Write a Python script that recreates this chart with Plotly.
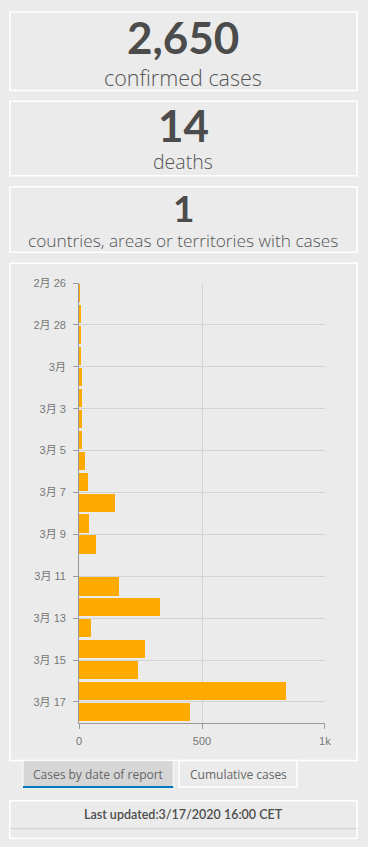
import plotly.graph_objects as go

# ---------------- data ----------------
report_dates = [
    "2020-02-26", "2020-02-27", "2020-02-28", "2020-02-29", "2020-03-01",
    "2020-03-02", "2020-03-03", "2020-03-04", "2020-03-05", "2020-03-06",
    "2020-03-07", "2020-03-08", "2020-03-09", "2020-03-10", "2020-03-11",
    "2020-03-12", "2020-03-13", "2020-03-14", "2020-03-15", "2020-03-16",
    "2020-03-17",
]
new_cases = [1, 8, 8, 7, 13, 13, 13, 13, 25, 37, 147, 40, 71, 0, 162,
             329, 48, 270, 238, 844, 452]

y_tick_vals = ["2020-02-26", "2020-02-28", "2020-03-01", "2020-03-03",
               "2020-03-05", "2020-03-07", "2020-03-09", "2020-03-11",
               "2020-03-13", "2020-03-15", "2020-03-17"]
y_tick_text = ["2月 26", "2月 28", "3月", "3月 3", "3月 5", "3月 7",
               "3月 9", "3月 11", "3月 13", "3月 15", "3月 17"]
x_tick_vals = [0, 500, 1000]
x_tick_text = ["0", "500", "1k"]

kpi_values = ["2,650", "14", "1"]
kpi_labels = ["confirmed cases", "deaths",
              "countries, areas or territories with cases"]
tab_labels = ["Cases by date of report", "Cumulative cases"]
updated_text = "Last updated:3/17/2020 16:00 CET"

# ---------------- layout helpers ----------------
W, H = 368, 847
DAY = 86400000


def px(x):
    return x / W


def py(y):
    return 1 - y / H


BG = "#ebebeb"
TXT = "#4c4c4c"
NUM_FONT = "Lato, 'Noto Sans', sans-serif"
LBL_FONT = "'Open Sans', 'Noto Sans', sans-serif"
AX_FONT = "'Liberation Sans', Arial, 'Noto Sans CJK SC', sans-serif"

fig = go.Figure()
fig.add_trace(go.Bar(
    x=new_cases, y=report_dates, orientation="h",
    marker=dict(color="#ffaa00", line=dict(width=0)),
    offset=0.05 * DAY, width=0.87 * DAY,
    hoverinfo="x+y",
))

shapes = []


def panel(x0, y0, x1, y1, fill=None, color="white", w=1.5):
    shapes.append(dict(
        type="rect", xref="paper", yref="paper",
        x0=px(x0), x1=px(x1), y0=py(y1), y1=py(y0),
        line=dict(color=color, width=w),
        fillcolor=fill if fill else "rgba(0,0,0,0)",
        layer="below",
    ))


panel(7, 6, 363, 85)
panel(7, 96, 363, 171)
panel(7, 182, 363, 248)
panel(7, 259, 363, 760)
panel(20.5, 760, 174.5, 787, fill="#d6d6d6", w=1)
panel(180.5, 760, 301.5, 786.5, w=1.5)
panel(7, 800.5, 363, 838.5)
# blue underline of active tab
shapes.append(dict(type="line", xref="paper", yref="paper",
                   x0=px(20.5), x1=px(174.5), y0=py(786.5), y1=py(786.5),
                   line=dict(color="#0079c1", width=2)))
# divider in the footer panel
shapes.append(dict(type="line", xref="paper", yref="paper",
                   x0=px(7.5), x1=px(362.5), y0=py(828.5), y1=py(828.5),
                   line=dict(color="#cfcfcf", width=1)))

annotations = []


def text(t, x, y, size, color=TXT, weight=400, family=LBL_FONT):
    annotations.append(dict(
        text=t, x=px(x), y=py(y), xref="paper", yref="paper",
        xanchor="center", yanchor="middle", showarrow=False,
        font=dict(size=size, color=color, family=family, weight=weight),
    ))


text(kpi_values[0], 185, 31, 44, weight=700, family=NUM_FONT)
text(kpi_labels[0], 185, 72, 21.5, color="#555555", weight=300)
text(kpi_values[1], 185, 120, 44, weight=700, family=NUM_FONT)
text(kpi_labels[1], 185, 157, 19.5, color="#555555", weight=300)
text(kpi_values[2], 185, 203, 37, weight=700, family=NUM_FONT)
text(kpi_labels[2], 185, 236, 17.3, color="#555555", weight=300)
text(tab_labels[0], 97.5, 774, 12, color="#666666")
text(tab_labels[1], 241, 774, 12, color="#666666")
text(updated_text, 185, 814.5, 12.5, color=TXT, weight=600,
     family=NUM_FONT)

fig.update_layout(
    width=W, height=H,
    margin=dict(l=0, r=0, t=0, b=0),
    paper_bgcolor=BG, plot_bgcolor=BG,
    showlegend=False,
    shapes=shapes, annotations=annotations,
    bargap=0,
    xaxis=dict(
        domain=[px(78), px(330)],
        range=[0, 1000],
        tickvals=x_tick_vals, ticktext=x_tick_text,
        showgrid=True, gridcolor="#d3d3d3", gridwidth=1,
        showline=True, linecolor="#9a9a9a", linewidth=1,
        ticks="outside", ticklen=5, tickcolor="#9a9a9a",
        ticklabelstandoff=3,
        tickfont=dict(size=11, color="#777777", family=AX_FONT),
        zeroline=False, fixedrange=True,
    ),
    yaxis=dict(
        domain=[py(722), py(279)],
        type="date",
        range=["2020-03-18", "2020-02-26"],
        tickvals=y_tick_vals, ticktext=y_tick_text,
        showgrid=True, gridcolor="#d3d3d3", gridwidth=1,
        showline=True, linecolor="#9a9a9a", linewidth=1,
        ticks="outside", ticklen=5, tickcolor="#9a9a9a",
        ticklabelstandoff=5,
        tickfont=dict(size=11, color="#777777", family=AX_FONT),
        zeroline=False, fixedrange=True,
    ),
)

fig.write_html("out.html", config={"displayModeBar": False})
